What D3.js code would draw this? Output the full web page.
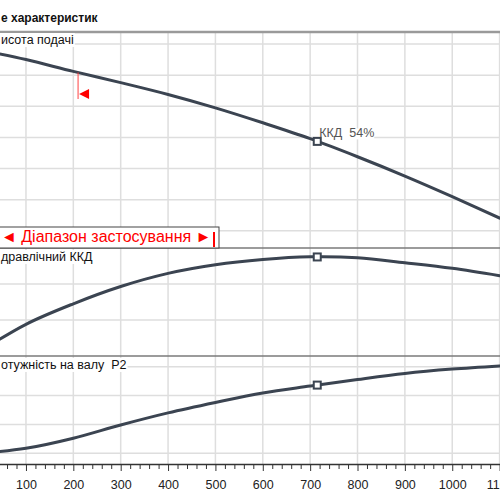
<!DOCTYPE html>
<html>
<head>
<meta charset="utf-8">
<script src="https://cdn.jsdelivr.net/npm/d3@7"></script>
<style>
  body { margin: 0; background: #fff; }
  svg { display: block; font-family: "Liberation Sans", Arial, sans-serif; }
</style>
</head>
<body>
<div id="chart"></div>
<script>
/* Pump curves: head, hydraulic efficiency, shaft power */

// Data
const flow       = [0, 100, 200, 300, 400, 500, 600, 700, 800, 900, 1000, 1100];
const head       = [68.2, 65.0, 61.2, 57.6, 53.8, 49.5, 44.7, 39.6, 33.8, 27.6, 21.0, 14.1];
const efficiency = [2.0, 17.6, 29.0, 38.6, 45.9, 50.7, 53.6, 55.1, 54.6, 51.8, 48.7, 44.6];
const power      = [9.9, 11.7, 15.2, 19.8, 24.0, 27.6, 30.9, 33.3, 35.6, 37.7, 39.2, 40.3];

const flowTicks  = [100, 200, 300, 400, 500, 600, 700, 800, 900, 1000, 1100];
const headTicks  = [10, 20, 30, 40, 50, 60, 70];
const effTicks   = [20, 40];
const powerTicks = [10, 20, 30, 40];

const bepFlow = 715;              // best efficiency point
const bepLabel = "ККД  54%";
const rangeMin = 210;             // range of use
const rangeMax = 497;

// visible parts of the labels (picture is cut at the left)
const title = "е характеристик";
const headLabel = "исота подачі";
const effLabel = "дравлічний ККД";
const powerLabel = "отужність на валу  P2";
const rangeText = "◄ Діапазон застосування ►";

// Dimensions
const width = 500, height = 500;
const curveColor = "#3b4451";
const gridColor = "#dedede";

let svg = d3.select("#chart")
     .append("svg")
     .attr("width", width)
     .attr("height", height);

// Scales (the picture is cropped, so 0 sits left of the frame)
let x = d3.scaleLinear().domain([0, 1100]).range([-21.4, 499.6]);
let yHead = d3.scaleLinear().domain([0, 70]).range([262, 44]);
let yEff = d3.scaleLinear().domain([0, 60]).range([356, 248]);
let yPow = d3.scaleLinear().domain([0, 40]).range([482, 366.8]);

const panelTop = 32, axisY = 464;

// linear lookup on the data, used for the markers
function valueAt(arr, q) {
     for (let i = 1; i < flow.length; i++) {
          if (q <= flow[i]) {
               let t = (q - flow[i-1]) / (flow[i] - flow[i-1]);
               return arr[i-1] + t * (arr[i] - arr[i-1]);
          }
     }
     return arr[arr.length-1];
}

// Vertical grid
svg.append("g")
     .selectAll("line")
     .data(flowTicks)
     .enter()
     .append("line")
       .attr("x1", d => x(d)).attr("x2", d => x(d))
       .attr("y1", panelTop).attr("y2", axisY)
       .attr("stroke", gridColor)
       .attr("stroke-width", 1.5);

// Horizontal grid for each panel
function hGrid(scale, ticks) {
     svg.append("g")
          .selectAll("line")
          .data(ticks)
          .enter()
          .append("line")
            .attr("x1", 0).attr("x2", width)
            .attr("y1", d => scale(d)).attr("y2", d => scale(d))
            .attr("stroke", gridColor)
            .attr("stroke-width", 1.5);
}
hGrid(yHead, headTicks);
hGrid(yEff, effTicks);
hGrid(yPow, powerTicks);

// Curves
function drawCurve(values, scale) {
     let line = d3.line()
          .x((d, i) => x(flow[i]))
          .y(d => scale(d))
          .curve(d3.curveCatmullRom.alpha(0.5));
     svg.append("path")
          .datum(values)
          .attr("d", line)
          .attr("fill", "none")
          .attr("stroke", curveColor)
          .attr("stroke-width", 3)
          .attr("stroke-linecap", "round");
}
drawCurve(head, yHead);
drawCurve(efficiency, yEff);
drawCurve(power, yPow);

// Panel borders
svg.append("line")
     .attr("x1", 0).attr("x2", width)
     .attr("y1", panelTop).attr("y2", panelTop)
     .attr("stroke", "#9a9a9a").attr("stroke-width", 2.5);
[yEff.range()[1], yEff.range()[0]].forEach(function(y) {
     svg.append("line")
          .attr("x1", 0).attr("x2", width)
          .attr("y1", y).attr("y2", y)
          .attr("stroke", "#7a7a7a").attr("stroke-width", 1.5);
});

// Labels, with white background
function label(txt, y, size, weight, bg) {
     let t = svg.append("text")
          .attr("x", 1)
          .attr("y", y)
          .style("font-size", size + "px")
          .style("font-weight", weight)
          .style("white-space", "pre")
          .attr("fill", "#111")
          .text(txt);
     if (bg) {
          let b = t.node().getBBox();
          svg.insert("rect", function() { return t.node(); })
               .attr("x", 0).attr("y", b.y)
               .attr("width", b.x + b.width + 1).attr("height", b.height)
               .attr("fill", "#fff");
     }
     return t;
}
label(title, 22, 12, "bold", false);
label(headLabel, 44, 12.5, "normal", true);
label(effLabel, 261, 12.5, "normal", true);
label(powerLabel, 369, 12.5, "normal", true);

// Range of use box
svg.append("rect")
     .attr("x", -5).attr("y", 227)
     .attr("width", x(rangeMax) + 10).attr("height", 21)
     .attr("fill", "#fff")
     .attr("stroke", "#444")
     .attr("stroke-width", 1);
svg.append("text")
     .attr("x", 1)
     .attr("y", 242)
     .style("font-size", "16px")
     .attr("fill", "#ff0000")
     .text(rangeText);
svg.append("line")
     .attr("x1", x(rangeMax)).attr("x2", x(rangeMax))
     .attr("y1", 232).attr("y2", 247)
     .attr("stroke", "#ff0000").attr("stroke-width", 2);

// Red marker on head curve at start of range
let rx = x(rangeMin);
svg.append("line")
     .attr("x1", rx).attr("x2", rx)
     .attr("y1", yHead(valueAt(head, rangeMin))).attr("y2", 99)
     .attr("stroke", "#ff4040").attr("stroke-width", 1);
svg.append("path")
     .attr("d", "M" + (rx + 1) + ",94 L" + (rx + 11) + ",89 L" + (rx + 11) + ",99 Z")
     .attr("fill", "#ff0000");

// BEP label
let bx = x(bepFlow), by = yHead(valueAt(head, bepFlow));
let lbl = svg.append("text")
     .attr("x", bx + 2)
     .attr("y", by - 4)
     .style("font-size", "12.5px")
     .style("white-space", "pre")
     .attr("fill", "#555")
     .text(bepLabel);
let lb = lbl.node().getBBox();
svg.insert("rect", function() { return lbl.node(); })
     .attr("x", lb.x).attr("y", lb.y + 2)
     .attr("width", lb.width).attr("height", lb.height - 3)
     .attr("fill", "#fff");

// BEP markers on each curve
[[head, yHead], [efficiency, yEff], [power, yPow]].forEach(function(c) {
     svg.append("rect")
          .attr("x", bx - 3.5)
          .attr("y", c[1](valueAt(c[0], bepFlow)) - 3.5)
          .attr("width", 7).attr("height", 7)
          .attr("fill", "#fff")
          .attr("stroke", curveColor)
          .attr("stroke-width", 2);
});

// X axis with minor ticks
svg.append("g")
     .attr("transform", "translate(0," + axisY + ")")
     .call(d3.axisBottom(x)
          .tickValues(d3.range(0, 1101, 20).filter(d => d % 100 != 0))
          .tickSize(5).tickSizeOuter(0).tickFormat(""))
     .call(g => g.select(".domain").remove())
     .selectAll("line").attr("stroke", "#333");

let xAxis = svg.append("g")
     .attr("transform", "translate(0," + axisY + ")")
     .call(d3.axisBottom(x)
          .tickValues(flowTicks)
          .tickFormat(d3.format("d"))
          .tickSize(7).tickSizeOuter(0).tickPadding(9.5));
xAxis.select(".domain").attr("stroke", "#333").attr("stroke-width", 1.5);
xAxis.selectAll("line").attr("stroke", "#333");
xAxis.selectAll("text")
     .style("font-size", "12.5px")
     .style("font-family", "'Liberation Sans', Arial, sans-serif")
     .attr("fill", "#222");
</script>
</body>
</html>
